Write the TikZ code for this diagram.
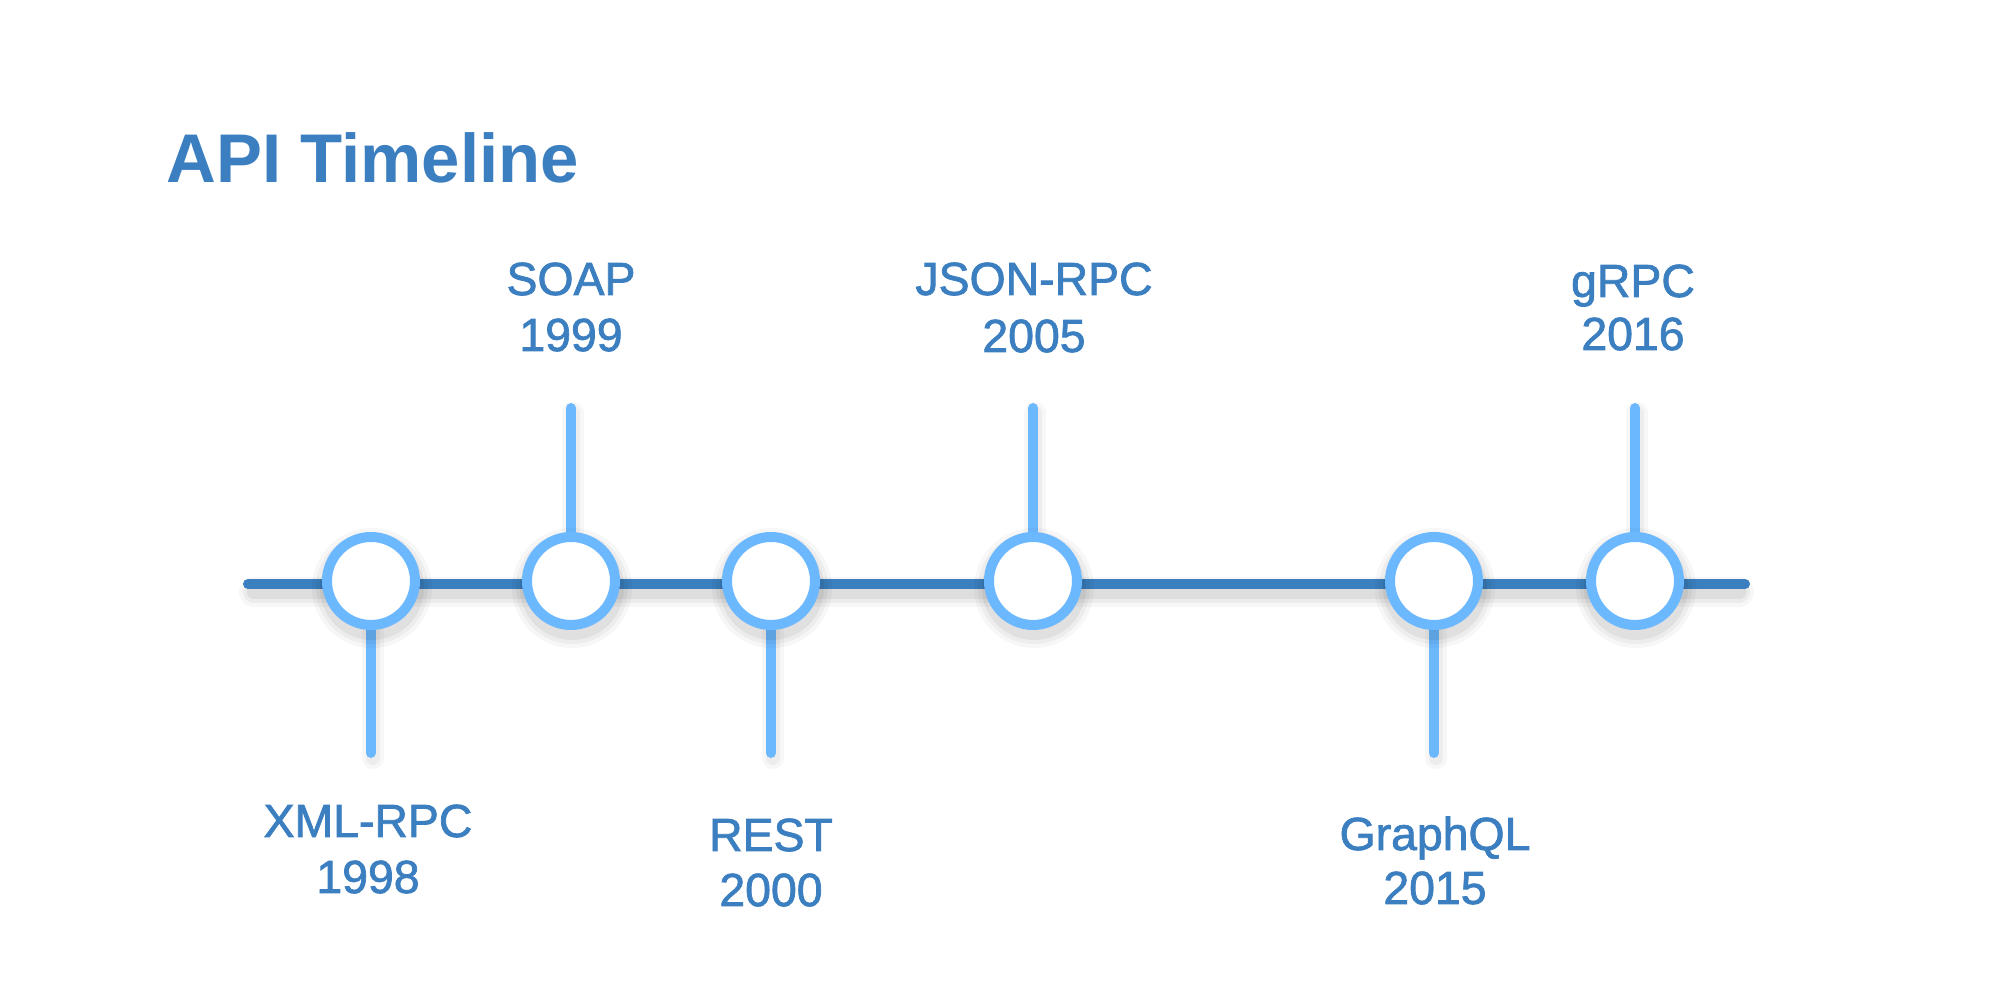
\documentclass[tikz,border=0pt]{standalone}
\usepackage{fontspec}
\setmainfont{Liberation Sans}
\newfontfamily\labelfont{Liberation Sans}[FakeBold=1.6]
\definecolor{dkblue}{RGB}{59,127,192}
\definecolor{ltblue}{RGB}{108,184,255}
\pgfdeclarelayer{bottom}
\pgfdeclarelayer{background}
\pgfsetlayers{bottom,background,main}
\tikzset{
  mainline/.style={line width=0.1cm, dkblue, line cap=round},
  stem/.style={line width=0.1cm, ltblue, line cap=round},
  event/.style={circle, draw=ltblue, line width=0.1cm, fill=white, minimum size=0.88cm, inner sep=0pt},
  lbl/.style={text=dkblue, font=\labelfont\fontsize{13.2}{16}\selectfont, anchor=base, inner sep=0pt},
  ttl/.style={text=dkblue, font=\bfseries\fontsize{19.6}{24}\selectfont, anchor=base west, inner sep=0pt},
  shade/.style={black, line cap=round},
}
\begin{document}
\begin{tikzpicture}
\begin{pgfonlayer}{bottom}
\fill[white] (0,0) rectangle (20,-10);
\end{pgfonlayer}
\useasboundingbox (0,0) rectangle (20,-10);
\node[ttl] (title) at (1.66,-1.83) {API Timeline};

\coordinate (L) at (2.48,-5.84);
\coordinate (R) at (17.45,-5.84);

% events
\node[event] (e1) at (3.71,-5.81) {};
\node[event] (e2) at (5.71,-5.81) {};
\node[event] (e3) at (7.71,-5.81) {};
\node[event] (e4) at (10.33,-5.81) {};
\node[event] (e5) at (14.34,-5.81) {};
\node[event] (e6) at (16.35,-5.81) {};

% stem ends
\coordinate (s1) at (3.71,-7.53);
\coordinate (s2) at (5.71,-4.08);
\coordinate (s3) at (7.71,-7.53);
\coordinate (s4) at (10.33,-4.08);
\coordinate (s5) at (14.34,-7.53);
\coordinate (s6) at (16.35,-4.08);

\begin{pgfonlayer}{background}
  % shadow of main line
  \foreach \w/\o in {0.30/0.03,0.22/0.045,0.15/0.06} {
    \draw[shade, line width=\w cm, opacity=\o] ([xshift=0.06cm,yshift=-0.08cm]L) -- ([xshift=-0.06cm,yshift=-0.08cm]R);
  }
  % stem shadows
  \foreach \i in {1,...,6} {
    \foreach \w/\o in {0.22/0.03,0.14/0.04} {
      \draw[shade, line width=\w cm, opacity=\o] ([xshift=0.02cm,yshift=-0.05cm]e\i.center) -- ([xshift=0.02cm,yshift=-0.05cm]s\i);
    }
  }
  \draw[mainline] (L) -- (R);
  \foreach \i in {1,...,6} {
    \draw[stem] (e\i.center) -- (s\i);
  }
  % circle shadows
  \foreach \i in {1,...,6} {
    \foreach \r/\o in {0.60/0.03,0.56/0.04,0.52/0.05} {
      \fill[black, opacity=\o] ([xshift=0.01cm,yshift=-0.07cm]e\i.center) circle (\r);
    }
  }
\end{pgfonlayer}

% labels
\node[lbl] (n1) at (3.68,-8.37) {XML-RPC};
\node[lbl] (y1) at (3.68,-8.93) {1998};
\node[lbl] (n2) at (5.71,-2.95) {SOAP};
\node[lbl] (y2) at (5.71,-3.51) {1999};
\node[lbl] (n3) at (7.71,-8.51) {REST};
\node[lbl] (y3) at (7.71,-9.06) {2000};
\node[lbl] (n4) at (10.34,-2.95) {JSON-RPC};
\node[lbl] (y4) at (10.34,-3.52) {2005};
\node[lbl] (n5) at (14.35,-8.50) {GraphQL};
\node[lbl] (y5) at (14.35,-9.04) {2015};
\node[lbl] (n6) at (16.33,-2.97) {gRPC};
\node[lbl] (y6) at (16.33,-3.50) {2016};
\end{tikzpicture}
\end{document}
